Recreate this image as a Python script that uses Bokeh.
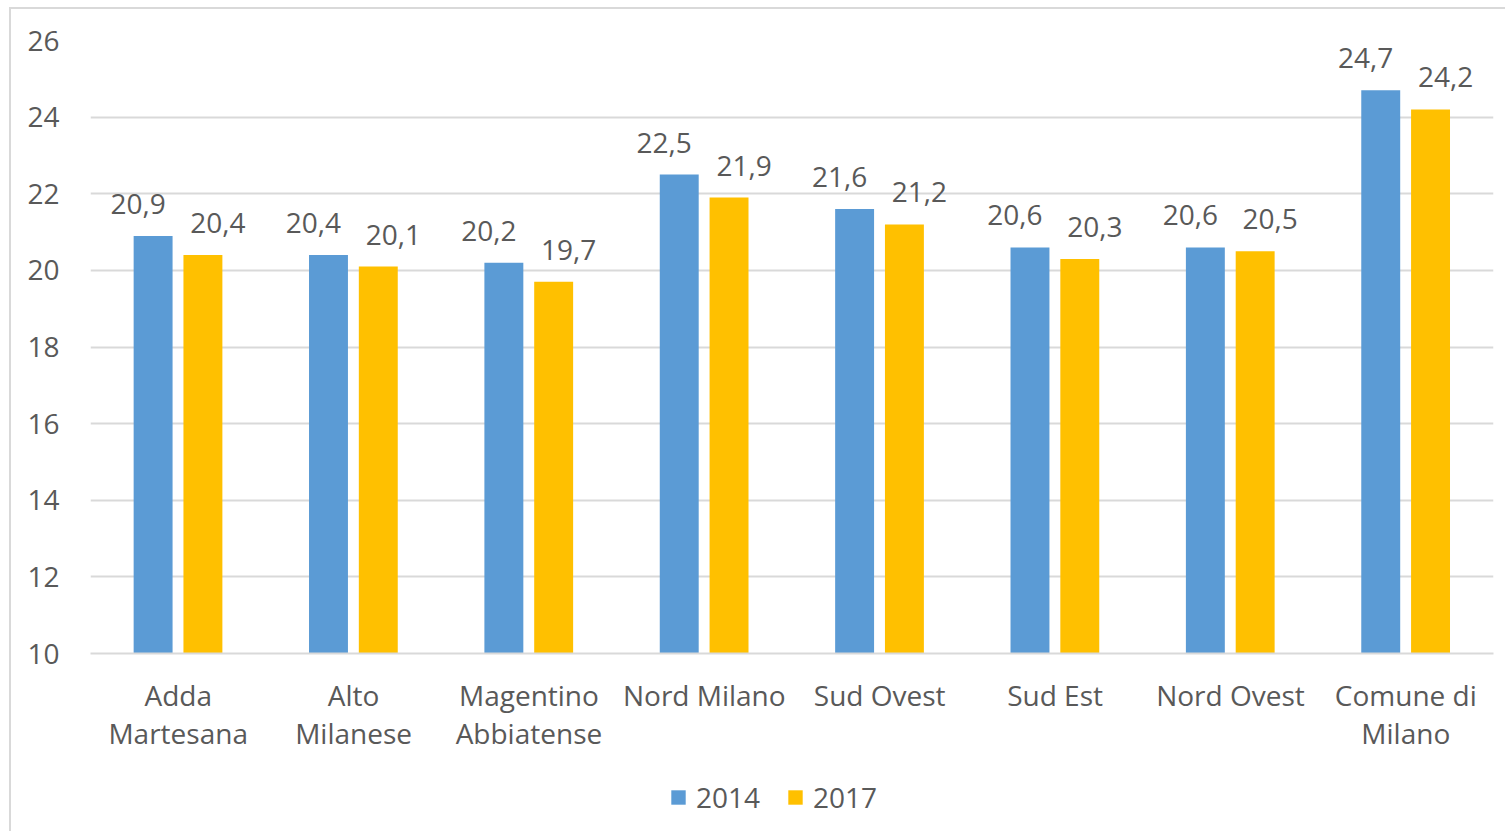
from bokeh.plotting import figure
from bokeh.layouts import column
from bokeh.models import ColumnDataSource, FactorRange, Range1d, Legend, LegendItem, FixedTicker
from bokeh.transform import dodge
from bokeh.core.properties import value
from bokeh.embed import file_html
from bokeh.resources import INLINE

categories = ["Adda\nMartesana", "Alto\nMilanese", "Magentino\nAbbiatense", "Nord Milano",
              "Sud Ovest", "Sud Est", "Nord Ovest", "Comune di\nMilano"]
v2014 = [20.9, 20.4, 20.2, 22.5, 21.6, 20.6, 20.6, 24.7]
v2017 = [20.4, 20.1, 19.7, 21.9, 21.2, 20.3, 20.5, 24.2]
series = ["2014", "2017"]
y_ticks = [10, 12, 14, 16, 18, 20, 22, 24, 26]

FONT = "Open Sans"
FS = "28px"
TXT = "#595959"
GRID = "#d9d9d9"
BLUE = "#5B9BD5"
YELLOW = "#FFC000"

def fmt(v):
    return f"{v:.1f}".replace(".", ",")

src = ColumnDataSource(dict(
    cat=categories,
    v2014=v2014,
    v2017=v2017,
    l2014=[fmt(v) for v in v2014],
    l2017=[fmt(v) for v in v2017],
))

p = figure(width=1494, height=746, output_backend="svg", toolbar_location=None,
           x_range=FactorRange(factors=categories, range_padding=0, factor_padding=0),
           y_range=Range1d(10, 26),
           min_border_left=79, min_border_right=12, min_border_top=31, min_border_bottom=102)
p.outline_line_color = None
p.background_fill_color = "white"
p.border_fill_color = "white"

p.vbar(x=dodge("cat", -0.143, range=p.x_range), top="v2014", bottom=10, width=0.222,
       source=src, fill_color=BLUE, line_color=None)
p.vbar(x=dodge("cat", 0.141, range=p.x_range), top="v2017", bottom=10, width=0.222,
       source=src, fill_color=YELLOW, line_color=None)

p.text(x=dodge("cat", -0.143, range=p.x_range), y="v2014", text="l2014", source=src,
       text_align="center", text_baseline="alphabetic", x_offset=-15, y_offset=-32,
       text_font=value(FONT), text_font_size=FS, text_color=TXT)
p.text(x=dodge("cat", 0.141, range=p.x_range), y="v2017", text="l2017", source=src,
       text_align="center", text_baseline="alphabetic", x_offset=15, y_offset=-32,
       text_font=value(FONT), text_font_size=FS, text_color=TXT)

p.xgrid.grid_line_color = None
p.ygrid.grid_line_color = GRID
p.ygrid.grid_line_width = 2
p.yaxis.ticker = FixedTicker(ticks=y_ticks)

p.yaxis.axis_line_color = None
p.yaxis.major_tick_line_color = None
p.yaxis.major_tick_out = 0
p.yaxis.major_tick_in = 0
p.yaxis.minor_tick_line_color = None
p.yaxis.major_label_standoff = 31
p.yaxis.major_label_text_font = FONT
p.yaxis.major_label_text_font_size = FS
p.yaxis.major_label_text_color = TXT

p.xaxis.axis_line_color = GRID
p.xaxis.axis_line_width = 2
p.xaxis.major_tick_line_color = None
p.xaxis.major_tick_out = 0
p.xaxis.major_tick_in = 0
p.xaxis.minor_tick_line_color = None
p.xaxis.major_label_standoff = 22
p.xaxis.major_label_text_font = FONT
p.xaxis.major_label_text_font_size = FS
p.xaxis.major_label_text_color = TXT
p.xaxis.major_label_text_line_height = 1.0

# legend strip below the chart
pl = figure(width=1494, height=76, output_backend="svg", toolbar_location=None,
            x_range=Range1d(0, 1), y_range=Range1d(0, 1),
            x_axis_type=None, y_axis_type=None,
            min_border_left=0, min_border_right=0, min_border_top=0, min_border_bottom=0)
pl.outline_line_color = None
pl.background_fill_color = "white"
pl.border_fill_color = "white"
pl.xgrid.visible = False
pl.ygrid.visible = False
# legend key proxies (hidden renderers, only their legend swatches are shown)
k1 = pl.vbar(x=[0], top=[0], width=0, fill_color=BLUE, line_color=None, visible=False)
k2 = pl.vbar(x=[0], top=[0], width=0, fill_color=YELLOW, line_color=None, visible=False)

legend = Legend(items=[LegendItem(label=series[0], renderers=[k1]),
                       LegendItem(label=series[1], renderers=[k2])],
                orientation="horizontal", location=(579, 15),
                glyph_width=18, glyph_height=18, label_standoff=9, spacing=26,
                padding=0, margin=0, border_line_color=None, background_fill_alpha=0,
                inactive_fill_alpha=0,
                label_text_font=FONT, label_text_font_size=FS, label_text_color=TXT)
pl.add_layout(legend)

layout = column(p, pl, spacing=0)
layout.styles = {"margin-left": "9px", "margin-top": "7px",
                 "border-top": "2px solid #d9d9d9", "border-left": "2px solid #d9d9d9"}

open("out.html", "w").write(file_html(layout, INLINE))
